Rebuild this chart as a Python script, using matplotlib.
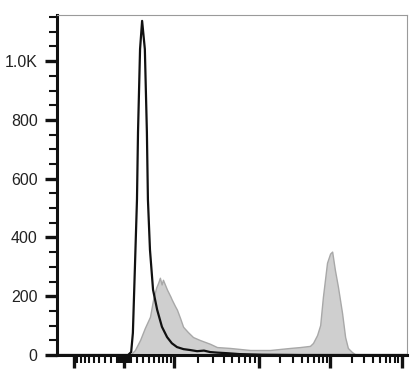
import numpy as np
import matplotlib
matplotlib.use("Agg")
import matplotlib.pyplot as plt

# Histogram data, x in display channels (0-1024), y in event counts.
CONTROL_X = [0, 208, 217, 222, 228, 234, 237, 243, 249, 257, 263, 266, 272, 281,
             293, 307, 322, 336, 351, 370, 389, 410, 430, 448, 470, 500, 535, 600,
             711, 1024]
CONTROL_Y = [0, 0, 10, 75, 300, 529, 758, 1041, 1137, 1041, 758, 529, 358, 222,
             154, 96, 61, 40, 27, 20, 17, 13, 15, 10, 8, 6, 3, 1, 0, 0]

STAINED_X = [0, 214, 228, 243, 257, 272, 281, 290, 296, 301, 306, 310, 316, 322,
             331, 336, 345, 351, 360, 369, 383, 398, 418, 448, 468, 506, 565, 623,
             682, 711, 740, 749, 761, 770, 778, 790, 799, 805, 813, 822, 834, 843,
             851, 863, 875, 1024]
STAINED_Y = [0, 0, 17, 51, 92, 130, 188, 229, 246, 263, 240, 256, 239, 222,
             201, 188, 167, 154, 126, 96, 78, 61, 51, 38, 27, 24, 17, 17,
             24, 27, 31, 41, 68, 102, 198, 314, 345, 352, 290, 232, 143, 61,
             24, 10, 0, 0]

Y_MAJOR = [0, 200, 400, 600, 800, 1000]
Y_LABELS = ["0", "200", "400", "600", "800", "1.0K"]
X_MAJOR_VALUES = [-100, 0, 100, 1e3, 1e4, 1e5]


def value_to_channel(v):
    """Biexponential-like mapping of a fluorescence value to a channel."""
    v = np.asarray(v, dtype=float)
    lin = 124 + 37.8 * np.arcsinh(v / 57.0)
    top = 124 + 37.8 * np.arcsinh(1000 / 57.0)
    logpart = top + 71.5 * (np.log10(np.maximum(v, 1e-9)) - 3)
    px = np.where(v > 1000, logpart, lin)
    return (px - 57) * 1024 / 350


def minor_values():
    vals = []
    for k in range(1, 10):
        vals += [k, -k, 10 * k, -10 * k]
    for dec in (100, 1000, 10000):
        vals += [m * dec for m in range(2, 10)]
    return vals


def main():
    plt.rcParams["font.family"] = ["Liberation Sans", "DejaVu Sans"]
    fig = plt.figure(figsize=(4.18, 3.75), dpi=100)
    ax = fig.add_axes([57 / 418, 20 / 375, 350 / 418, 340 / 375])

    ax.fill_between(STAINED_X, STAINED_Y, color="#cfcfcf", edgecolor="#a8a8a8",
                    linewidth=1.0, zorder=1)
    ax.plot(CONTROL_X, CONTROL_Y, color="#111111", linewidth=1.6, zorder=2)

    ax.set_xlim(0, 1024)
    ax.set_ylim(0, 1157)

    ax.set_yticks(Y_MAJOR)
    ax.set_yticklabels(Y_LABELS, fontsize=11.5)
    ax.set_yticks(np.arange(50, 1157, 50), minor=True)

    xmaj = value_to_channel(X_MAJOR_VALUES)
    xmin = value_to_channel(minor_values())
    xmin = [c for c in xmin if 0 <= c <= 1024]
    ax.set_xticks(xmaj)
    ax.set_xticks(xmin, minor=True)
    ax.set_xticklabels([])

    ax.tick_params(axis="both", which="major", direction="out", length=9,
                   width=2.4, color="#111111", pad=5)
    ax.tick_params(axis="both", which="minor", direction="out", length=6,
                   width=1.5, color="#111111")
    ax.tick_params(axis="y", labelcolor="#222222")

    for side in ("left", "bottom"):
        ax.spines[side].set_linewidth(2.2)
        ax.spines[side].set_color("#111111")
    for side in ("top", "right"):
        ax.spines[side].set_linewidth(0.8)
        ax.spines[side].set_color("#9a9a9a")

    fig.savefig("out.png", dpi=100)


if __name__ == "__main__":
    main()
